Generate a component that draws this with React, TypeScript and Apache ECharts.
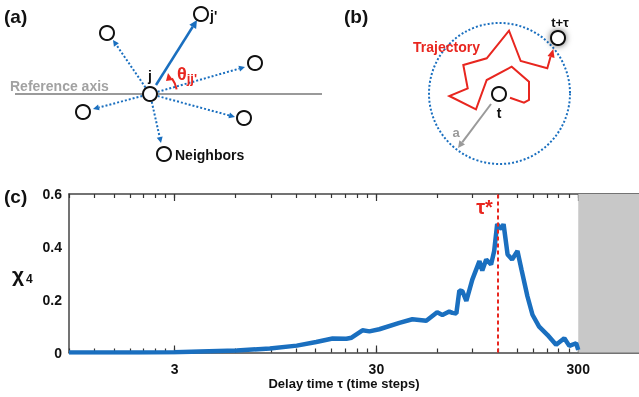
import React, { useEffect, useRef } from "react";
import * as echarts from "echarts";

// ---- data (panel c) ----
const tauValues = [0.9, 2, 3, 4, 6.1, 8.9, 12.1, 15.1, 18.2, 21.3, 22.6, 25.6, 27.7, 31, 39, 45.2, 53, 60, 63.7, 68.9, 71.4, 74.7, 77.3, 80, 83.7, 89.6, 97.2, 100.4, 105, 111, 115, 119, 125, 128, 134, 141, 150, 157, 168, 178, 192, 211, 233, 256, 271, 293, 300];
const chi4Values = [0, 0, 0.001, 0.004, 0.008, 0.015, 0.026, 0.04, 0.053, 0.052, 0.056, 0.084, 0.08, 0.088, 0.112, 0.126, 0.12, 0.152, 0.142, 0.155, 0.15, 0.148, 0.235, 0.232, 0.195, 0.276, 0.346, 0.31, 0.352, 0.333, 0.384, 0.486, 0.467, 0.486, 0.371, 0.352, 0.384, 0.314, 0.213, 0.143, 0.098, 0.067, 0.029, 0.054, 0.025, 0.035, 0.01];
const xTickValues = [0.9, 1.2, 1.5, 1.8, 2.1, 2.4, 2.7, 3, 6, 9, 12, 15, 18, 21, 24, 27, 30, 60, 90, 120, 150, 180, 210, 240, 270, 300];
const xMajorTicks = [3, 30, 300];
const yTicks = [0, 0.2, 0.4, 0.6];
const tauStar = 120;
const excludedRange = [300, 600];

const FONT = "Liberation Sans, Arial, Helvetica, sans-serif";
const BLUE = "#1a6fbf";
const RED = "#e8261f";
const GRAY = "#9a9a9a";

function arrow(x1: number, y1: number, x2: number, y2: number, color: string, width: number, dash: number[] | null, head: number) {
  const dx = x2 - x1, dy = y2 - y1;
  const L = Math.sqrt(dx * dx + dy * dy);
  const ux = dx / L, uy = dy / L;
  const bx = x2 - ux * head, by = y2 - uy * head;
  const px = -uy * head * 0.5, py = ux * head * 0.5;
  return [
    { type: "line", shape: { x1, y1, x2: bx, y2: by }, style: { stroke: color, lineWidth: width, lineDash: dash || undefined }, silent: true },
    { type: "polygon", shape: { points: [[x2, y2], [bx + px, by + py], [bx - px, by - py]] }, style: { fill: color }, silent: true },
  ];
}

function node(cx: number, cy: number, glow = false) {
  return {
    type: "circle",
    shape: { cx, cy, r: 7 },
    style: { fill: "#fff", stroke: "#111", lineWidth: 2, shadowBlur: glow ? 6 : 0, shadowColor: "rgba(0,0,0,0.6)" },
    z: 10,
    silent: true,
  };
}

function label(text: string, x: number, y: number, size: number, color = "#111", align = "left") {
  return {
    type: "text",
    x, y,
    style: { text, fill: color, font: `bold ${size}px ${FONT}`, align, verticalAlign: "middle" },
    z: 11,
    silent: true,
  };
}

function logAxis(position: string, ticks: number[], len: number, withLine: boolean, withLabels: boolean) {
  return {
    type: "log", logBase: 10, min: 0.9, max: 600, position,
    axisLine: { show: withLine, lineStyle: { color: "#444", width: 1.5 } },
    axisTick: { show: true, inside: true, length: len, customValues: ticks, lineStyle: { color: "#333", width: 1.2 } },
    axisLabel: withLabels
      ? { show: true, customValues: xMajorTicks, formatter: (v: number) => String(Math.round(v)), fontWeight: "bold", fontSize: 14, color: "#111", margin: 9 }
      : { show: false },
    splitLine: { show: false },
  };
}

export default function App() {
  const ref = useRef<HTMLDivElement>(null);
  useEffect(() => {
    if (!ref.current) return;
    const chart = echarts.init(ref.current, null, { renderer: "svg" });

    const jx = 150, jy = 94;
    const neighbors = [
      [107, 33, 113, 40],
      [255, 63, 245, 67],
      [83, 112, 93, 109],
      [244, 118, 235, 117],
      [164, 154, 161, 143],
    ];
    const graphics: any[] = [];
    // panel labels
    graphics.push(label("(a)", 4, 16, 19));
    graphics.push(label("(b)", 344, 16, 19));
    graphics.push(label("(c)", 4, 196, 19));
    // panel a
    graphics.push({ type: "line", shape: { x1: 15, y1: jy, x2: 322, y2: jy }, style: { stroke: GRAY, lineWidth: 2 }, silent: true });
    graphics.push(label("Reference axis", 10, 86, 14, "#a2a2a2"));
    neighbors.forEach(([nx, ny, ex, ey]) => {
      const dx = ex - jx, dy = ey - jy, L = Math.hypot(dx, dy);
      graphics.push(...arrow(jx + (dx / L) * 8, jy + (dy / L) * 8, ex, ey, BLUE, 2, [2, 2], 6));
      graphics.push(node(nx, ny));
    });
    graphics.push(...arrow(156, 85, 197, 20, BLUE, 2.5, null, 8));
    graphics.push(node(jx, jy));
    graphics.push(node(201, 14));
    graphics.push(label("j", 150, 76, 14, "#111", "center"));
    graphics.push(label("j'", 210, 16, 14));
    graphics.push(label("Neighbors", 175, 155, 14));
    graphics.push({ type: "arc", shape: { cx: jx, cy: jy, r: 27, startAngle: -0.17, endAngle: -0.62, clockwise: false }, style: { stroke: RED, lineWidth: 2, fill: "none" }, silent: true });
    graphics.push({ type: "polygon", shape: { points: [[168, 73], [166, 81], [173, 80]] }, style: { fill: RED }, silent: true });
    graphics.push({
      type: "text", x: 177, y: 74,
      style: { text: "{a|θ}{b|jj'}", rich: { a: { font: `bold 18px ${FONT}`, fill: RED }, b: { font: `bold 13px ${FONT}`, fill: RED, padding: [8, 0, 0, 0] } }, verticalAlign: "middle" },
      silent: true,
    });
    // panel b
    graphics.push({ type: "circle", shape: { cx: 499.5, cy: 93.5, r: 70.5 }, style: { fill: "none", stroke: BLUE, lineWidth: 2, lineDash: [2, 2] }, silent: true });
    graphics.push({
      type: "polyline",
      shape: { points: [[510, 97.7], [524, 102.7], [529, 100], [529, 81.7], [511.7, 66.7], [486.7, 80], [476, 109.3], [449.3, 96], [467.7, 88.3], [463.3, 65], [486.7, 58.3], [509, 30.7], [520.7, 61], [547.3, 68.3], [550.5, 57]] },
      style: { stroke: RED, lineWidth: 2, fill: "none" },
      silent: true,
    });
    graphics.push({ type: "polygon", shape: { points: [[553.3, 49], [547.5, 56], [554.5, 58]] }, style: { fill: RED }, silent: true });
    graphics.push(label("Trajectory", 413, 47, 14, RED));
    graphics.push(...arrow(491, 104, 458, 148, GRAY, 2, null, 7));
    graphics.push(label("a", 456, 132, 13, GRAY, "center"));
    graphics.push(node(499, 94));
    graphics.push(node(558, 38, true));
    graphics.push(label("t", 499, 113, 14, "#111", "center"));
    graphics.push(label("t+τ", 560, 22, 13, "#111", "center"));
    // panel c texts
    graphics.push(label("χ", 12, 274, 21));
    graphics.push(label("4", 26, 279, 12));
    graphics.push(label("Delay time τ (time steps)", 344, 383, 13, "#111", "center"));

    const data = tauValues.map((t, i) => [t, chi4Values[i]]);

    chart.setOption({
      animation: false,
      textStyle: { fontFamily: FONT },
      grid: { left: 69, right: 0, top: 194, bottom: 44.5 },
      xAxis: [
        logAxis("bottom", xTickValues, 4, true, true),
        logAxis("top", xTickValues, 4, true, false),
        logAxis("bottom", xMajorTicks, 7, false, false),
        logAxis("top", xMajorTicks, 7, false, false),
      ],
      yAxis: {
        type: "value", min: 0, max: 0.6, interval: 0.2,
        axisLine: { show: true, lineStyle: { color: "#444", width: 1.5 } },
        axisTick: { show: false },
        axisLabel: { customValues: yTicks, fontWeight: "bold", fontSize: 14, color: "#111", margin: 7 },
        splitLine: { show: false },
      },
      series: [
        {
          type: "line",
          data,
          showSymbol: false,
          lineStyle: { color: BLUE, width: 4.5 },
          z: 3,
          markArea: {
            silent: true,
            itemStyle: { color: "#c8c8c8", opacity: 1 },
            data: [[{ xAxis: excludedRange[0] }, { xAxis: excludedRange[1] }]],
          },
          markLine: {
            silent: true,
            symbol: "none",
            label: { show: false },
            lineStyle: { color: RED, type: [4, 3], width: 2 },
            data: [{ xAxis: tauStar }],
            z: 4,
          },
          markPoint: {
            silent: true,
            symbolSize: 0,
            data: [{ coord: [tauStar, 0.55] }],
            label: { show: true, formatter: "τ*", position: "left", distance: 5, fontSize: 20, fontWeight: "bold", color: RED, fontFamily: FONT },
          },
        },
      ],
      graphic: graphics,
    });
    return () => chart.dispose();
  }, []);
  return <div ref={ref} style={{ position: "fixed", left: 0, top: 0, width: 639, height: 397 }} />;
}
